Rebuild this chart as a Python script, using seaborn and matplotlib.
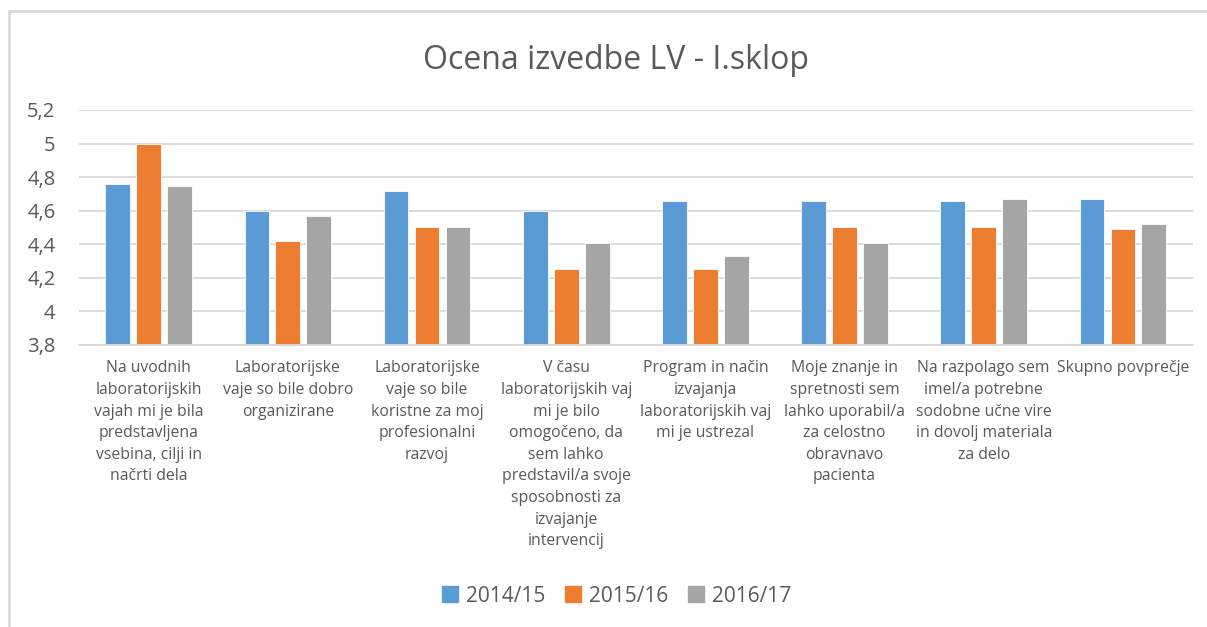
import pandas as pd
import seaborn as sns
import matplotlib.pyplot as plt
from matplotlib.lines import Line2D
from matplotlib.ticker import FuncFormatter

categories = [
    'Na uvodnih\nlaboratorijskih\nvajah mi je bila\npredstavljena\nvsebina, cilji in\nnačrti dela',
    'Laboratorijske\nvaje so bile dobro\norganizirane',
    'Laboratorijske\nvaje so bile\nkoristne za moj\nprofesionalni\nrazvoj',
    'V času\nlaboratorijskih vaj\nmi je bilo\nomogočeno, da\nsem lahko\npredstavil/a svoje\nsposobnosti za\nizvajanje\nintervencij',
    'Program in način\nizvajanja\nlaboratorijskih vaj\nmi je ustrezal',
    'Moje znanje in\nspretnosti sem\nlahko uporabil/a\nza celostno\nobravnavo\npacienta',
    'Na razpolago sem\nimel/a potrebne\nsodobne učne vire\nin dovolj materiala\nza delo',
    'Skupno povprečje',
]
years = ['2014/15', '2015/16', '2016/17']
y2014 = [4.76, 4.60, 4.72, 4.60, 4.66, 4.66, 4.66, 4.67]
y2015 = [5.00, 4.42, 4.50, 4.25, 4.25, 4.50, 4.50, 4.49]
y2016 = [4.75, 4.57, 4.50, 4.41, 4.33, 4.41, 4.67, 4.52]
colors = ['#5B9BD5', '#ED7D31', '#A5A5A5']

df = pd.DataFrame({
    'cat': categories * 3,
    'year': [years[0]] * 8 + [years[1]] * 8 + [years[2]] * 8,
    'value': y2014 + y2015 + y2016,
})

sns.set_style('white')
plt.rcParams['font.family'] = ['Open Sans', 'DejaVu Sans']
text_col = '#595959'
grid_col = '#D9D9D9'

fig = plt.figure(figsize=(12.07, 6.27), dpi=100)
ax = fig.add_axes([0.0655, 0.4498, 0.9225, 0.3748])

sns.barplot(data=df, x='cat', y='value', hue='year', palette=colors,
            saturation=1, width=0.667, gap=0.2, edgecolor='white',
            linewidth=0.6, legend=False, ax=ax)

ax.set_ylim(3.8, 5.2)
ax.set_xlim(-0.5, 7.5)
ax.set_yticks([3.8, 4.0, 4.2, 4.4, 4.6, 4.8, 5.0, 5.2])
ax.yaxis.set_major_formatter(FuncFormatter(lambda v, p: ('%g' % round(v, 1)).replace('.', ',')))
ax.grid(axis='y', color=grid_col, linewidth=1.3)
ax.set_axisbelow(True)
for s in ['top', 'right', 'left']:
    ax.spines[s].set_visible(False)
ax.spines['bottom'].set_color(grid_col)
ax.spines['bottom'].set_linewidth(1.3)
ax.tick_params(axis='y', length=0, labelsize=14.5, labelcolor=text_col, pad=17)
ax.tick_params(axis='x', length=0, labelsize=11.3, labelcolor=text_col, pad=11)
for lab in ax.get_xticklabels():
    lab.set_linespacing(1.47)
    lab.set_verticalalignment('top')
ax.set_xlabel('')
ax.set_ylabel('')

fig.suptitle('Ocena izvedbe LV - I.sklop', x=0.51, y=0.93, fontsize=23, color=text_col)

handles = [Line2D([0], [0], marker='s', linestyle='', markersize=11,
                  markerfacecolor=c, markeredgecolor=c) for c in colors]
fig.legend(handles, years, loc='center', bbox_to_anchor=(0.51, 0.049), ncol=3,
           frameon=False, fontsize=15, labelcolor=text_col,
           handlelength=1.0, handletextpad=0.25, columnspacing=0.85)

# chart frame (top and left edges visible)
fig.add_artist(Line2D([9 / 1207, 1.0], [1 - 11 / 627, 1 - 11 / 627],
                      transform=fig.transFigure, color='#D9D9D9', linewidth=2))
fig.add_artist(Line2D([9 / 1207, 9 / 1207], [0, 1 - 11 / 627],
                      transform=fig.transFigure, color='#D9D9D9', linewidth=2))

fig.savefig('out.png', dpi=100)
